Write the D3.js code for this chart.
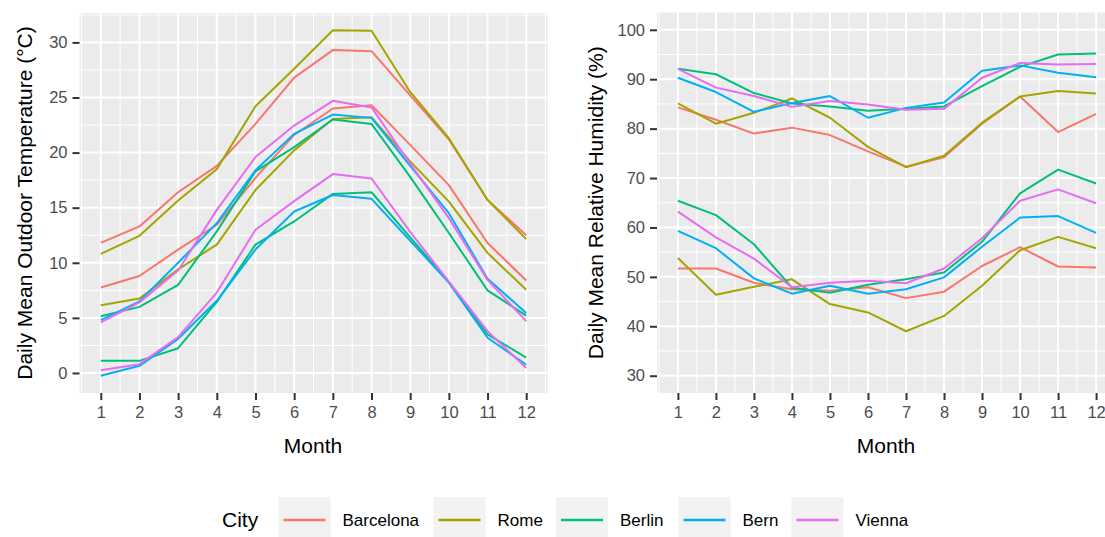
<!DOCTYPE html>
<html>
<head>
<meta charset="utf-8">
<script src="https://cdn.jsdelivr.net/npm/d3@7"></script>
<style>
  html, body { margin: 0; padding: 0; background: #fff; }
  svg { display: block; font-family: "Liberation Sans", Arial, sans-serif; }
</style>
</head>
<body>
<svg id="chart" width="1105" height="537"></svg>
<script>
const months = [1,2,3,4,5,6,7,8,9,10,11,12];
const cities = ["Barcelona","Rome","Berlin","Bern","Vienna"];
const cityColors = ["#F8766D","#A3A500","#00BF7D","#00B0F6","#E76BF3"];

// Daily mean outdoor temperature (°C): upper and lower curve per city
const tempHighBarcelona = [11.8, 13.3, 16.4, 18.8, 22.6, 26.8, 29.3, 29.2, 25.2, 21.2, 15.7, 12.5];
const tempHighRome      = [10.8, 12.45, 15.65, 18.5, 24.2, 27.6, 31.1, 31.05, 25.5, 21.3, 15.7, 12.15];
const tempHighBerlin    = [5.15, 6.0, 8.0, 12.85, 18.3, 20.5, 23.0, 22.6, 17.8, 12.7, 7.5, 5.2];
const tempHighBern      = [4.8, 6.5, 10.0, 13.6, 18.4, 21.7, 23.45, 23.15, 18.8, 14.5, 8.55, 5.45];
const tempHighVienna    = [4.6, 6.4, 9.3, 14.8, 19.6, 22.45, 24.7, 24.1, 19.0, 14.05, 8.45, 4.7];

const tempLowBarcelona  = [7.75, 8.8, 11.2, 13.45, 17.7, 21.6, 24.0, 24.3, 20.7, 17.05, 11.8, 8.4];
const tempLowRome       = [6.15, 6.75, 9.4, 11.65, 16.6, 20.2, 23.05, 23.2, 19.2, 15.55, 10.9, 7.55];
const tempLowBerlin     = [1.1, 1.1, 2.25, 6.45, 11.65, 13.75, 16.25, 16.4, 12.3, 8.25, 3.5, 1.4];
const tempLowBern       = [-0.25, 0.65, 3.1, 6.55, 11.2, 14.65, 16.15, 15.8, 12.0, 8.2, 3.2, 0.75];
const tempLowVienna     = [0.25, 0.8, 3.25, 7.3, 13.0, 15.6, 18.05, 17.65, 12.8, 8.3, 3.8, 0.45];

// Daily mean relative humidity (%): upper and lower curve per city
const humHighBarcelona = [84.3, 81.8, 79.0, 80.2, 78.7, 75.4, 72.3, 74.2, 81.0, 86.5, 79.3, 83.0];
const humHighRome      = [85.1, 81.0, 83.2, 86.1, 82.2, 76.3, 72.2, 74.5, 81.2, 86.5, 87.6, 87.1];
const humHighBerlin    = [92.1, 91.0, 87.2, 85.1, 84.5, 83.6, 84.0, 84.5, 88.6, 92.5, 95.0, 95.2];
const humHighBern      = [90.3, 87.4, 83.4, 85.2, 86.6, 82.2, 84.2, 85.3, 91.7, 92.8, 91.3, 90.4];
const humHighVienna    = [92.1, 88.3, 86.6, 84.4, 85.6, 84.9, 83.8, 84.0, 90.3, 93.3, 93.0, 93.1];

const humLowBarcelona  = [51.7, 51.7, 48.8, 47.5, 47.2, 47.9, 45.7, 47.0, 52.2, 56.0, 52.1, 51.9];
const humLowRome       = [53.8, 46.4, 48.0, 49.5, 44.5, 42.8, 39.0, 42.1, 48.2, 55.4, 58.1, 55.8];
const humLowBerlin     = [65.4, 62.5, 56.6, 47.8, 46.8, 48.4, 49.5, 50.9, 57.1, 66.9, 71.7, 68.9];
const humLowBern       = [59.3, 55.8, 49.7, 46.6, 48.2, 46.6, 47.5, 49.9, 56.1, 62.0, 62.3, 58.9];
const humLowVienna     = [63.2, 58.0, 53.7, 47.9, 48.8, 49.2, 48.7, 51.7, 57.8, 65.4, 67.7, 64.9];

const tempTicks = [0, 5, 10, 15, 20, 25, 30];
const humTicks = [30, 40, 50, 60, 70, 80, 90, 100];
const humLimits = [30, 100];

const tempSeries = [
  [tempHighBarcelona, tempLowBarcelona],
  [tempHighRome, tempLowRome],
  [tempHighBerlin, tempLowBerlin],
  [tempHighBern, tempLowBern],
  [tempHighVienna, tempLowVienna]
];
const humSeries = [
  [humHighBarcelona, humLowBarcelona],
  [humHighRome, humLowRome],
  [humHighBerlin, humLowBerlin],
  [humHighBern, humLowBern],
  [humHighVienna, humLowVienna]
];

const svg = d3.select("#chart");
const defs = svg.append("defs");

function expand(lo, hi, f) { const r = hi - lo; return [lo - r * f, hi + r * f]; }

function drawPanel(opts) {
  const { id, left, right, top, bottom, yDomain, yTicks, yMinor, series, yTitle, yTitleX, monthX } = opts;
  const x = d3.scaleLinear().domain([0.45, 12.55]).range([left, right]);
  const y = d3.scaleLinear().domain(yDomain).range([bottom, top]);

  defs.append("clipPath").attr("id", "clip" + id)
    .append("rect").attr("x", left).attr("y", top).attr("width", right - left).attr("height", bottom - top);

  const g = svg.append("g");
  g.append("rect").attr("x", left).attr("y", top).attr("width", right - left).attr("height", bottom - top)
    .attr("fill", "#EBEBEB");

  const grid = g.append("g").attr("clip-path", `url(#clip${id})`);
  const xMinor = d3.range(0.5, 13, 1);
  grid.selectAll(".yminor").data(yMinor).join("line")
    .attr("x1", left).attr("x2", right).attr("y1", d => y(d)).attr("y2", d => y(d))
    .attr("stroke", "#fff").attr("stroke-width", 1);
  grid.selectAll(".xminor").data(xMinor).join("line")
    .attr("y1", top).attr("y2", bottom).attr("x1", d => x(d)).attr("x2", d => x(d))
    .attr("stroke", "#fff").attr("stroke-width", 1);
  grid.selectAll(".ymajor").data(yTicks).join("line")
    .attr("x1", left).attr("x2", right).attr("y1", d => y(d)).attr("y2", d => y(d))
    .attr("stroke", "#fff").attr("stroke-width", 2);
  grid.selectAll(".xmajor").data(months).join("line")
    .attr("y1", top).attr("y2", bottom).attr("x1", d => x(d)).attr("x2", d => x(d))
    .attr("stroke", "#fff").attr("stroke-width", 2);

  const line = d3.line().x((d, i) => x(months[i])).y(d => y(d));
  const lines = g.append("g").attr("clip-path", `url(#clip${id})`);
  series.forEach((pair, ci) => {
    pair.forEach(vals => {
      lines.append("path").attr("d", line(vals))
        .attr("fill", "none").attr("stroke", cityColors[ci])
        .attr("stroke-width", 2).attr("stroke-linejoin", "round");
    });
  });

  const yAxis = d3.axisLeft(y).tickValues(yTicks).tickSize(7).tickPadding(5);
  const ya = svg.append("g").attr("transform", `translate(${left},0)`).call(yAxis);
  const xAxis = d3.axisBottom(x).tickValues(months).tickSize(7).tickPadding(6);
  const xa = svg.append("g").attr("transform", `translate(0,${bottom})`).call(xAxis);
  [ya, xa].forEach(a => {
    a.select(".domain").remove();
    a.selectAll(".tick line").attr("stroke", "#333333").attr("stroke-width", 2);
    a.selectAll(".tick text").attr("fill", "#4D4D4D").attr("font-size", 16.5)
      .attr("font-family", "'Liberation Sans', Arial, sans-serif");
  });

  svg.append("text").attr("x", monthX)
    .attr("y", 453).attr("text-anchor", "middle").attr("font-size", 21).attr("fill", "#000")
    .text("Month");
  svg.append("text").attr("transform", `translate(${yTitleX},${(top + bottom) / 2}) rotate(-90)`)
    .attr("text-anchor", "middle").attr("font-size", 21).attr("fill", "#000")
    .text(yTitle);
}

const allTemp = tempSeries.flat(2);
const tDom = expand(d3.min(allTemp), d3.max(allTemp), 0.05);
drawPanel({
  id: "L", left: 79.5, right: 547.5, top: 13, bottom: 393,
  yDomain: tDom, yTicks: tempTicks, yMinor: d3.range(2.5, 33, 5),
  series: tempSeries, yTitle: "Daily Mean Outdoor Temperature (°C)", yTitleX: 32, monthX: 313
});

drawPanel({
  id: "R", left: 657, right: 1117, top: 12.5, bottom: 393,
  yDomain: expand(humLimits[0], humLimits[1], 0.05), yTicks: humTicks, yMinor: d3.range(35, 100, 10),
  series: humSeries, yTitle: "Daily Mean Relative Humidity (%)", yTitleX: 603, monthX: 886
});

// legend
const legend = svg.append("g");
legend.append("text").attr("x", 222).attr("y", 527).attr("font-size", 21).attr("fill", "#000").text("City");
const keyX = d3.scaleOrdinal().domain(cities).range([278.5, 433.5, 556, 678.5, 791.5]);
cities.forEach((c, i) => {
  const kx = keyX(c);
  legend.append("rect").attr("x", kx).attr("y", 497).attr("width", 52).attr("height", 48).attr("fill", "#F2F2F2");
  legend.append("line").attr("x1", kx + 5).attr("x2", kx + 47).attr("y1", 520).attr("y2", 520)
    .attr("stroke", cityColors[i]).attr("stroke-width", 2.5);
  legend.append("text").attr("x", kx + 64).attr("y", 526).attr("font-size", 17).attr("fill", "#000").text(c);
});
</script>
</body>
</html>
